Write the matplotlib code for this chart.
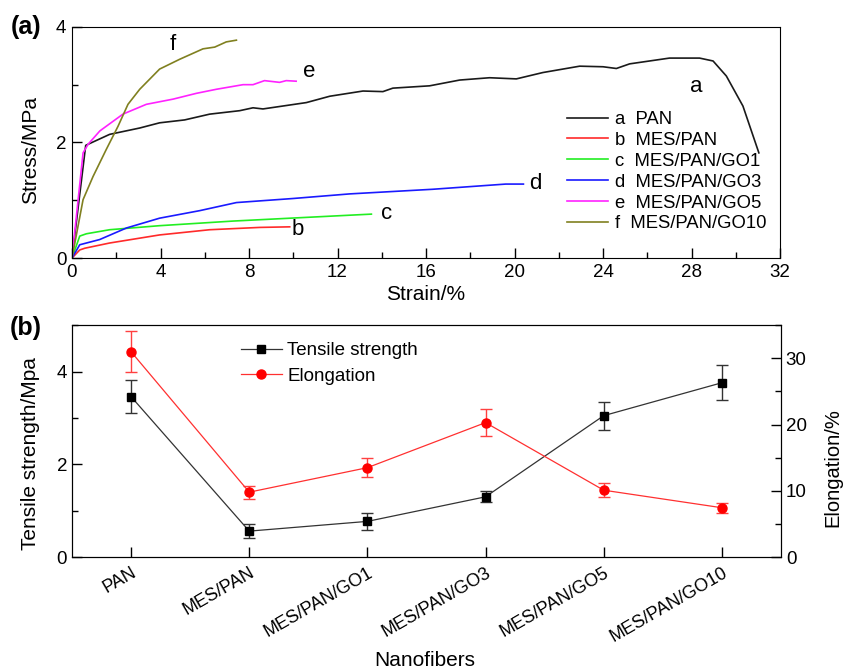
import matplotlib
matplotlib.use("Agg")
import matplotlib.pyplot as plt
from matplotlib.lines import Line2D
from matplotlib.ticker import MultipleLocator

plt.rcParams["font.family"] = ["Liberation Sans", "DejaVu Sans"]
plt.rcParams["font.size"] = 13.5

# ---- (a) stress-strain curves ----
pan_x = [0, 0.62, 1.7, 3.06, 3.96, 5.09, 6.22, 7.58, 8.18, 8.63, 10.59, 11.65, 13.15, 14.05,
         14.5, 16.16, 17.52, 18.87, 20.08, 21.28, 22.94, 24.0, 24.6, 25.2, 27.0, 28.36, 28.97,
         29.57, 30.32, 31.04]
pan_y = [0, 1.95, 2.14, 2.25, 2.34, 2.39, 2.49, 2.55, 2.6, 2.58, 2.69, 2.8, 2.89, 2.88,
         2.94, 2.98, 3.08, 3.12, 3.1, 3.21, 3.32, 3.31, 3.28, 3.36, 3.46, 3.46, 3.41,
         3.15, 2.63, 1.82]
mes_x = [0, 0.35, 0.58, 1.7, 3.96, 6.22, 8.48, 9.84]
mes_y = [0, 0.14, 0.17, 0.26, 0.40, 0.49, 0.53, 0.54]
go1_x = [0, 0.35, 0.65, 1.7, 3.96, 7.28, 13.0, 13.53]
go1_y = [0, 0.38, 0.42, 0.49, 0.56, 0.64, 0.75, 0.76]
go3_x = [0, 0.35, 1.25, 2.46, 3.96, 5.77, 7.43, 9.98, 12.55, 16.3, 19.6, 20.4]
go3_y = [0, 0.23, 0.32, 0.52, 0.69, 0.82, 0.96, 1.03, 1.11, 1.19, 1.28, 1.28]
go5_x = [0, 0.5, 0.73, 1.26, 2.3, 3.36, 4.57, 5.62, 6.52, 7.73, 8.18, 8.7, 9.38, 9.68, 10.13]
go5_y = [0, 1.82, 1.97, 2.2, 2.49, 2.66, 2.75, 2.85, 2.92, 3.0, 3.0, 3.07, 3.04, 3.07, 3.06]
go10_x = [0, 0.5, 0.95, 1.55, 2.08, 2.53, 3.06, 3.96, 4.87, 5.92, 6.45, 6.97, 7.43]
go10_y = [0, 1.01, 1.41, 1.88, 2.28, 2.66, 2.92, 3.27, 3.44, 3.62, 3.65, 3.74, 3.77]

curve_names = ["a  PAN", "b  MES/PAN", "c  MES/PAN/GO1", "d  MES/PAN/GO3",
               "e  MES/PAN/GO5", "f  MES/PAN/GO10"]
curve_colors = ["#1a1a1a", "#ff2a2a", "#22ee22", "#1a1aff", "#ff22ff", "#808020"]

# ---- (b) summary ----
samples = ["PAN", "MES/PAN", "MES/PAN/GO1", "MES/PAN/GO3", "MES/PAN/GO5", "MES/PAN/GO10"]
tensile = [3.46, 0.56, 0.77, 1.30, 3.05, 3.76]
tensile_err = [0.35, 0.15, 0.18, 0.12, 0.30, 0.38]
elong = [31.0, 9.8, 13.5, 20.3, 10.1, 7.45]
elong_err = [3.1, 1.0, 1.4, 2.07, 1.03, 0.75]

fig = plt.figure(figsize=(8.43, 6.72), dpi=100)
ax1 = fig.add_axes([0.0854, 0.616, 0.840, 0.344])
ax2 = fig.add_axes([0.0854, 0.171, 0.841, 0.345])

curves = [(pan_x, pan_y), (mes_x, mes_y), (go1_x, go1_y), (go3_x, go3_y),
          (go5_x, go5_y), (go10_x, go10_y)]
for (xs, ys), name, c in zip(curves, curve_names, curve_colors):
    ax1.plot(xs, ys, color=c, lw=1.2, label=name)

# letter labels next to curve ends
for letter, xy in zip("abcdef", [(28.2, 2.97), (10.2, 0.49), (14.2, 0.77),
                                  (20.95, 1.29), (10.74, 3.23), (4.55, 3.70)]):
    ax1.text(xy[0], xy[1], letter, fontsize=16, ha="center", va="center")

ax1.set_xlim(0, 32)
ax1.set_ylim(0, 4)
ax1.xaxis.set_major_locator(MultipleLocator(4))
ax1.xaxis.set_minor_locator(MultipleLocator(2))
ax1.yaxis.set_major_locator(MultipleLocator(2))
ax1.yaxis.set_minor_locator(MultipleLocator(1))
ax1.set_xlabel("Strain/%", fontsize=15, labelpad=3)
ax1.set_ylabel("Stress/MPa", fontsize=15)
ax1.yaxis.set_label_coords(-0.045, 0.467)
ax1.tick_params(which="both", direction="in", top=False, right=False)
ax1.tick_params(which="major", length=7, width=1.0, pad=4)
ax1.tick_params(which="minor", length=4, width=1.0)
ax1.legend(loc="lower right", bbox_to_anchor=(0.997, 0.063), frameon=False,
           fontsize=13.3, handlelength=2.2, handletextpad=0.4, labelspacing=0.21,
           borderaxespad=0.2)
fig.text(0.013, 1 - 15 / 672, "(a)", fontsize=18, fontweight="bold", va="top")

# bottom panel
pos = list(range(len(samples)))
ax2.errorbar(pos, tensile, yerr=tensile_err, color="#333333", lw=0.9, marker="s",
             ms=6, mfc="black", mec="black", ecolor="#333333", elinewidth=1.0,
             capsize=4, capthick=1.0)
ax3 = ax2.twinx()
ax3.errorbar(pos, elong, yerr=elong_err, color="#ff3030", lw=0.9, marker="o",
             ms=6.5, mfc="red", mec="red", ecolor="#ff4040", elinewidth=1.0,
             capsize=4, capthick=1.0)

ax2.set_xlim(-0.5, 5.5)
ax2.set_ylim(0, 5)
ax3.set_ylim(0, 35)
ax2.yaxis.set_major_locator(MultipleLocator(2))
ax2.yaxis.set_minor_locator(MultipleLocator(1))
ax3.yaxis.set_major_locator(MultipleLocator(10))
ax3.yaxis.set_minor_locator(MultipleLocator(5))
ax2.set_xticks(pos)
ax2.set_xticklabels(samples, rotation=30, ha="right", va="top",
                    rotation_mode="anchor", fontsize=13)
ax2.set_xlabel("Nanofibers", fontsize=15)
ax2.xaxis.set_label_coords(0.498, -0.405)
ax2.set_ylabel("Tensile strength/Mpa", fontsize=15)
ax2.yaxis.set_label_coords(-0.045, 0.448)
ax3.set_ylabel("Elongation/%", fontsize=14.5)
ax3.yaxis.set_label_coords(1.06, 0.386)
for a in (ax2, ax3):
    a.tick_params(which="both", direction="in")
    a.tick_params(which="major", length=7, width=1.0)
    a.tick_params(which="minor", length=4, width=1.0)
ax2.tick_params(axis="x", which="major", pad=5)
ax2.tick_params(right=False, top=False)

leg_handles = [
    Line2D([], [], color="#333333", lw=0.9, marker="s", ms=6, mfc="black", mec="black"),
    Line2D([], [], color="#ff3030", lw=0.9, marker="o", ms=6.5, mfc="red", mec="red"),
]
ax3.legend(leg_handles, ["Tensile strength", "Elongation"], loc="upper left",
           bbox_to_anchor=(0.214, 1.0), frameon=False, fontsize=13.5,
           handlelength=2.2, handletextpad=0.3, labelspacing=0.45)
fig.text(0.011, 1 - 316 / 672, "(b)", fontsize=18, fontweight="bold", va="top")

fig.savefig("out.png", dpi=100)
